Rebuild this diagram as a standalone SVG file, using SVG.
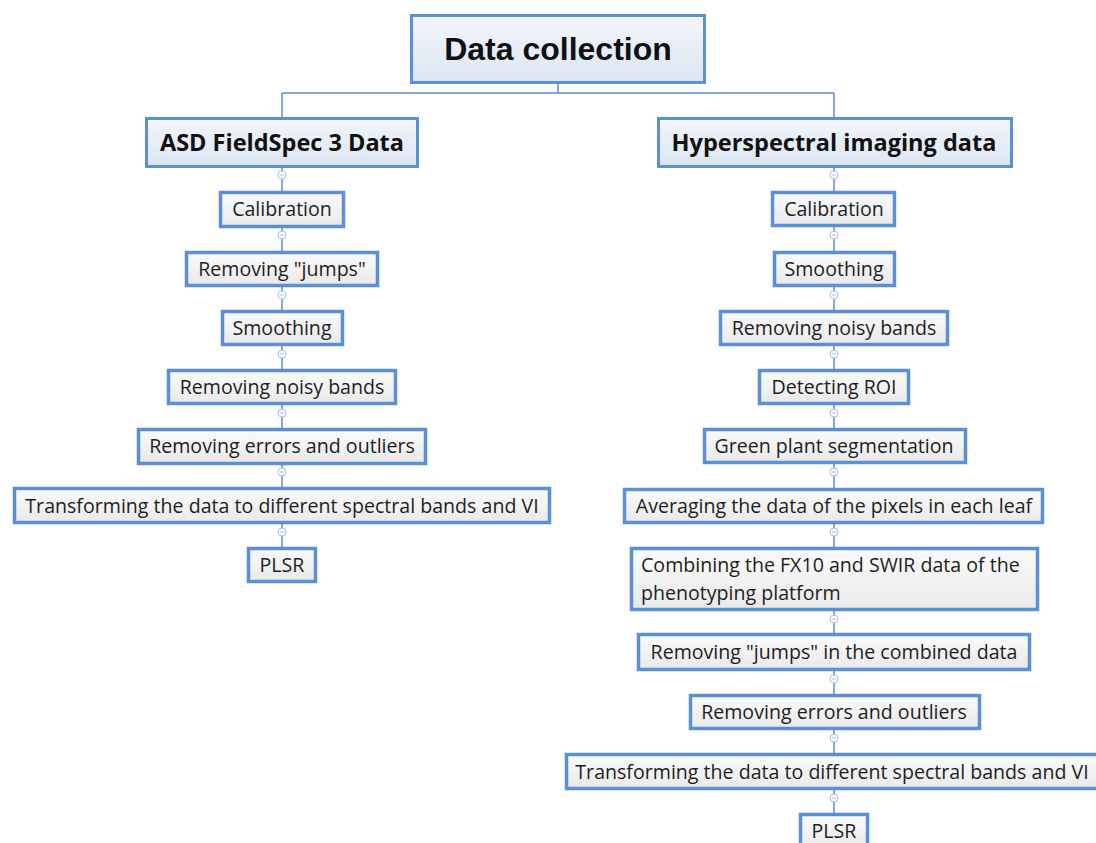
<svg xmlns="http://www.w3.org/2000/svg" width="1096" height="843" viewBox="0 0 1096 843">
<defs>
<linearGradient id="gTitle" x1="0" y1="0" x2="0" y2="1">
<stop offset="0" stop-color="#f3f6fb"/>
<stop offset="1" stop-color="#dbe5f2"/>
</linearGradient>
<linearGradient id="gLeaf" x1="0" y1="0" x2="0" y2="1">
<stop offset="0" stop-color="#fbfbfb"/>
<stop offset="1" stop-color="#e9e9e9"/>
</linearGradient>
<style>
.title{fill:url(#gTitle);stroke:#5b8fd6;stroke-width:3}
.leaf{fill:url(#gLeaf);stroke:#5b8fd6;stroke-width:3.5}
.t{font-family:"Open Sans","Noto Sans",sans-serif;font-size:19.6px;fill:#1e1e1e;text-anchor:middle}
.tb{font-family:"Open Sans","Noto Sans",sans-serif;font-size:23.5px;font-weight:bold;fill:#111;text-anchor:middle}
.tt{font-family:"Liberation Sans",Arial,sans-serif;font-size:32px;font-weight:bold;fill:#111;text-anchor:middle}
.ln{stroke:#5b8fd6;stroke-width:1.5;fill:none}
.c{fill:#fff;stroke:#a8bfe2;stroke-width:1}
.m{stroke:#a8bfe2;stroke-width:1}
</style>
</defs>
<g id="connectors">
<path class="ln" d="M558 83V93M282 93H834M282 93V117M834 93V117"/>
<path class="ln" d="M282 167V191M282 228V251M282 287V310M282 346V369M282 405V428M282 465V487M282 524V547"/>
<path class="ln" d="M834 167V191M834 227V251M834 287V310M834 346V369M834 405V428M834 464V488M834 524V547M834 611V633M834 671V694M834 730V753M834 790V813"/>
<g id="collapse-markers">
<g transform="translate(282,175)"><circle class="c" r="4"/><path class="m" d="M-2 0H2"/></g>
<g transform="translate(282,235)"><circle class="c" r="4"/><path class="m" d="M-2 0H2"/></g>
<g transform="translate(282,295)"><circle class="c" r="4"/><path class="m" d="M-2 0H2"/></g>
<g transform="translate(282,354)"><circle class="c" r="4"/><path class="m" d="M-2 0H2"/></g>
<g transform="translate(282,413)"><circle class="c" r="4"/><path class="m" d="M-2 0H2"/></g>
<g transform="translate(282,472)"><circle class="c" r="4"/><path class="m" d="M-2 0H2"/></g>
<g transform="translate(282,532)"><circle class="c" r="4"/><path class="m" d="M-2 0H2"/></g>
<g transform="translate(834,175)"><circle class="c" r="4"/><path class="m" d="M-2 0H2"/></g>
<g transform="translate(834,235)"><circle class="c" r="4"/><path class="m" d="M-2 0H2"/></g>
<g transform="translate(834,295)"><circle class="c" r="4"/><path class="m" d="M-2 0H2"/></g>
<g transform="translate(834,354)"><circle class="c" r="4"/><path class="m" d="M-2 0H2"/></g>
<g transform="translate(834,413)"><circle class="c" r="4"/><path class="m" d="M-2 0H2"/></g>
<g transform="translate(834,472)"><circle class="c" r="4"/><path class="m" d="M-2 0H2"/></g>
<g transform="translate(834,532)"><circle class="c" r="4"/><path class="m" d="M-2 0H2"/></g>
<g transform="translate(834,619)"><circle class="c" r="4"/><path class="m" d="M-2 0H2"/></g>
<g transform="translate(834,679)"><circle class="c" r="4"/><path class="m" d="M-2 0H2"/></g>
<g transform="translate(834,738)"><circle class="c" r="4"/><path class="m" d="M-2 0H2"/></g>
<g transform="translate(834,798)"><circle class="c" r="4"/><path class="m" d="M-2 0H2"/></g>
</g>
</g>
<g id="data-collection"><rect class="title" x="411.5" y="15.5" width="293" height="67"/><text class="tt" x="558" y="60">Data collection</text></g>
<g id="asd"><rect class="title" x="146.5" y="118.5" width="271" height="48"/><text class="tb" x="282" y="151">ASD FieldSpec 3 Data</text></g>
<g id="hyper"><rect class="title" x="658.5" y="118.5" width="353" height="48"/><text class="tb" x="834" y="151">Hyperspectral imaging data</text></g>
<g id="l-calibration"><rect class="leaf" x="220.5" y="192.5" width="123" height="34"/><text class="t" x="282" y="216">Calibration</text></g>
<g id="l-jumps"><rect class="leaf" x="186.5" y="252.5" width="191" height="33"/><text class="t" x="282" y="276">Removing "jumps"</text></g>
<g id="l-smoothing"><rect class="leaf" x="222.5" y="311.5" width="120" height="33"/><text class="t" x="282" y="335">Smoothing</text></g>
<g id="l-noisy"><rect class="leaf" x="168.5" y="370.5" width="227" height="33"/><text class="t" x="282" y="394">Removing noisy bands</text></g>
<g id="l-errors"><rect class="leaf" x="138.5" y="429.5" width="287" height="34"/><text class="t" x="282" y="453">Removing errors and outliers</text></g>
<g id="l-transform"><rect class="leaf" x="14.5" y="488.5" width="535" height="34"/><text class="t" x="282" y="513">Transforming the data to different spectral bands and VI</text></g>
<g id="l-plsr"><rect class="leaf" x="248.5" y="548.5" width="67" height="33"/><text class="t" x="282" y="572">PLSR</text></g>
<g id="r-calibration"><rect class="leaf" x="772.5" y="192.5" width="122" height="33"/><text class="t" x="834" y="216">Calibration</text></g>
<g id="r-smoothing"><rect class="leaf" x="774.5" y="252.5" width="120" height="33"/><text class="t" x="834" y="276">Smoothing</text></g>
<g id="r-noisy"><rect class="leaf" x="720.5" y="311.5" width="227" height="33"/><text class="t" x="834" y="335">Removing noisy bands</text></g>
<g id="r-roi"><rect class="leaf" x="759.5" y="370.5" width="149" height="33"/><text class="t" x="834" y="394">Detecting ROI</text></g>
<g id="r-green"><rect class="leaf" x="704.5" y="429.5" width="261" height="33"/><text class="t" x="834" y="453">Green plant segmentation</text></g>
<g id="r-averaging"><rect class="leaf" x="624.5" y="489.5" width="418" height="33"/><text class="t" x="834" y="513">Averaging the data of the pixels in each leaf</text></g>
<g id="r-combining"><rect class="leaf" x="631.5" y="548.5" width="406" height="61"/><text class="t" x="641" y="572" style="text-anchor:start">Combining the FX10 and SWIR data of the</text><text class="t" x="641" y="600" style="text-anchor:start">phenotyping platform</text></g>
<g id="r-jumps"><rect class="leaf" x="638.5" y="634.5" width="391" height="35"/><text class="t" x="834" y="659">Removing "jumps" in the combined data</text></g>
<g id="r-errors"><rect class="leaf" x="690.5" y="695.5" width="289" height="33"/><text class="t" x="834" y="719">Removing errors and outliers</text></g>
<g id="r-transform"><rect class="leaf" x="566.5" y="754.5" width="535" height="34"/><text class="t" x="832" y="779">Transforming the data to different spectral bands and VI</text></g>
<g id="r-plsr"><rect class="leaf" x="800.5" y="814.5" width="67" height="34"/><text class="t" x="834" y="838">PLSR</text></g>
</svg>
